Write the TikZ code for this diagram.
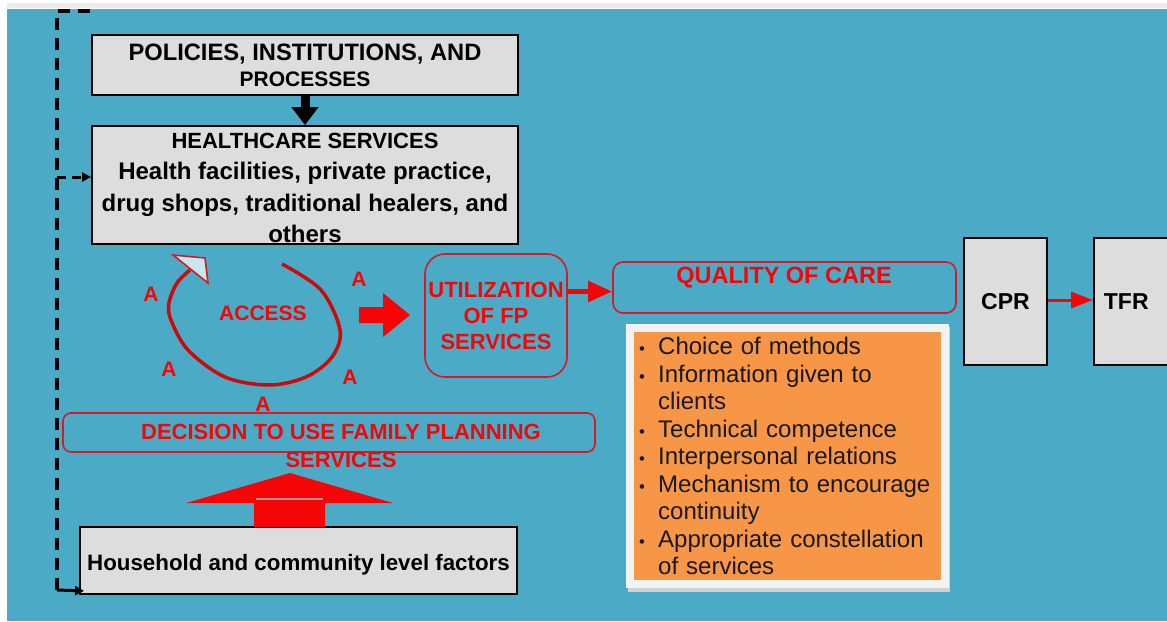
\documentclass[tikz,border=0pt]{standalone}
\usepackage{fontspec}
\setmainfont{Liberation Sans}
\usepackage{graphicx}
\usetikzlibrary{arrows.meta,calc}

\definecolor{bg}{RGB}{75,171,198}
\definecolor{topband}{RGB}{236,236,236}
\definecolor{boxgray}{RGB}{221,221,221}
\definecolor{boxred}{RGB}{215,25,35}
\definecolor{labelred}{RGB}{245,5,5}
\definecolor{loopred}{RGB}{205,10,10}
\definecolor{headfill}{RGB}{200,230,236}
\definecolor{qorange}{RGB}{247,150,70}
\definecolor{frame}{RGB}{243,243,243}

% one bullet line of the quality list
\newcommand\qitem[1]{\par\hangindent=22pt\hangafter=1\noindent
  \makebox[22pt][l]{\hspace{3pt}\scalebox{0.7}{\textbullet}}#1\par}

\begin{document}
\begin{tikzpicture}[x=1pt,y=-1pt,
  graybox/.style={draw=black,line width=1.8pt,fill=boxgray,inner sep=0pt,
    align=center,text=black,font=\bfseries\fontsize{22}{27}\selectfont},
  redbox/.style={draw=boxred,line width=1.6pt,inner sep=0pt},
  redtext/.style={text=labelred,font=\bfseries\fontsize{22}{26}\selectfont,
    align=center,inner sep=0pt},
  alabel/.style={text=labelred,font=\bfseries\fontsize{21}{21}\selectfont,inner sep=0pt},
  dashline/.style={draw=black,line width=4.5pt,dash pattern=on 12pt off 8pt},
  redconn/.style={draw=labelred,line width=5pt,-{Triangle[length=24pt,width=20pt]}},
  blackconn/.style={draw=black,line width=9pt,-{Triangle[length=18pt,width=26pt]}},
]
\useasboundingbox (0,0) rectangle (1167,621);
\clip (0,0) rectangle (1167,621);

% page background
\fill[white] (0,0) rectangle (1167,621);
\fill[topband] (7,3) rectangle (1167,8);
\fill[bg] (7,9) rectangle (1167,621);

% left-hand boxes
\node[graybox,minimum width=426pt,minimum height=60pt,
  font=\bfseries\fontsize{23.7}{26}\selectfont] (pol) at (305,65)
  {POLICIES, INSTITUTIONS, AND\\{\fontsize{21}{22}\selectfont PROCESSES}};
\node[graybox,minimum width=426pt,minimum height=118pt,
  font=\bfseries\fontsize{24}{31.5}\selectfont] (hc) at (305,185)
  {\rule{0pt}{21pt}{\fontsize{22}{24}\selectfont HEALTHCARE SERVICES}\\
   Health facilities, private practice,\\
   drug shops, traditional healers, and\\
   others};
\node[graybox,minimum width=437pt,minimum height=67pt,
  font=\bfseries\fontsize{22.3}{27}\selectfont] (hh) at (298.5,560.5)
  {\rule{0pt}{24pt}Household and community level factors};

\draw[blackconn] (pol.south) -- (hc.north);

% dashed feedback line on the left
\coordinate (dtop) at (90,11);
\coordinate (dcorner) at (57,11);
\coordinate (dmid) at (57,177);
\coordinate (dbot) at (57,590);
\draw[dashline] (dtop) -- (dcorner) -- (dbot);
\draw[draw=black,line width=3pt,dash pattern=on 9pt off 6pt,
  -{Triangle[length=9pt,width=9pt]}] (dmid) -- (hc.west |- dmid);
\draw[draw=black,line width=3pt,-{Triangle[length=9pt,width=9pt]}]
  (dbot) -- ([shift={(5pt,4pt)}]hh.south west);

% access loop
\draw[loopred,line width=3.5pt] plot[smooth,tension=0.55] coordinates
  {(282,264) (321,290) (340,330) (332,357) (306,377) (269,385) (225,377)
   (188,350) (171,320) (169,303) (177,283) (190,270)};
\filldraw[fill=headfill,draw=boxred,line width=1.6pt]
  (173,255) -- (205,258) -- (208,283) -- cycle;
\node[redtext,font=\bfseries\fontsize{21}{21}\selectfont] (access) at (263,313) {ACCESS};
\node[alabel] (a1) at (151,294) {A};
\node[alabel] (a2) at (359,279) {A};
\node[alabel] (a3) at (169,369) {A};
\node[alabel] (a4) at (350,377) {A};
\node[alabel] (a5) at (263,404) {A};

% block arrow towards utilization
\fill[labelred] (359,307) -- (383,307) -- (383,293) -- (410,315) -- (383,337)
  -- (383,323) -- (359,323) -- cycle;

% decision box and the upward arrow from household factors
\node[redbox,rounded corners=8pt,minimum width=532pt,minimum height=39pt] (dec) at (329,432.5) {};
\node[redtext,font=\bfseries\fontsize{22}{28}\selectfont] (dectext) at (341,446)
  {DECISION TO USE FAMILY PLANNING\\SERVICES};
\fill[labelred] (254,527) -- (254,503) -- (186,503) -- (290,473) -- (393,503)
  -- (325,503) -- (325,527) -- cycle;
\draw[gray!80,line width=1.5pt] (256,499) -- (323,499);

% utilization and quality of care
\node[redbox,rounded corners=20pt,minimum width=142pt,minimum height=123pt,
  redtext] (util) at (496,315.5) {UTILIZATION\\OF FP\\SERVICES};
\node[redbox,rounded corners=10pt,minimum width=343pt,minimum height=51pt] (qual) at (784.5,287.5) {};
\node[redtext,font=\bfseries\fontsize{23.5}{26}\selectfont] (qualtext) at (784,278) {QUALITY OF CARE};
\draw[redconn] ([yshift=-4pt]util.east |- qual.west) -- ([yshift=-4pt]qual.west);

% quality of care elements
\fill[gray!35] (628,327) rectangle (950,592);
\fill[frame] (626,324) rectangle (949,588);
\fill[qorange] (634,332) rectangle (941,580);
\node[anchor=north west,inner sep=0pt,text width=300pt,align=left,
  font=\fontsize{24}{27.5}\selectfont,text=black!90] (qlist) at (636,327)
  {\qitem{Choice of methods}
   \qitem{Information given to\newline clients}
   \qitem{Technical competence}
   \qitem{Interpersonal relations}
   \qitem{Mechanism to encourage\newline continuity}
   \qitem{Appropriate constellation\newline of services}};

% outcomes
\node[graybox,minimum width=83pt,minimum height=127pt,
  font=\bfseries\fontsize{23}{23}\selectfont] (cpr) at (1005.5,301.5) {CPR};
\node[graybox,anchor=west,text width=70pt,inner xsep=10pt,align=left,
  minimum height=127pt,font=\bfseries\fontsize{23}{23}\selectfont] (tfr) at (1093,301.5) {TFR};
\draw[draw=labelred,line width=3pt,-{Triangle[length=22pt,width=16pt]}]
  ([yshift=1.5pt]cpr.east) -- ([yshift=1.5pt]tfr.west);
\end{tikzpicture}
\end{document}
